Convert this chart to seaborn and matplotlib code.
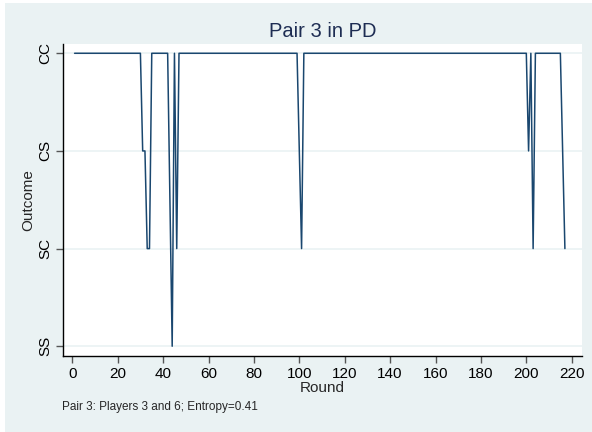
import numpy as np
import pandas as pd
import matplotlib
matplotlib.use("Agg")
import matplotlib.pyplot as plt
from matplotlib.patches import Rectangle
import seaborn as sns

# outcome codes on the y axis
outcome_labels = ["SS", "SC", "CS", "CC"]
outcome_codes = [1, 2, 3, 4]

# run lengths: (first round, last round, outcome)
# rounds 43, 100 and 216 have no observation (line is joined across them)
runs = [
    (1, 30, "CC"),
    (31, 32, "CS"),
    (33, 34, "SC"),
    (35, 42, "CC"),
    (44, 44, "SS"),
    (45, 45, "CC"),
    (46, 46, "SC"),
    (47, 99, "CC"),
    (101, 101, "SC"),
    (102, 200, "CC"),
    (201, 201, "CS"),
    (202, 202, "CC"),
    (203, 203, "SC"),
    (204, 215, "CC"),
    (217, 217, "SC"),
]

code_of = dict(zip(outcome_labels, outcome_codes))
rows = []
for first, last, lab in runs:
    for r in range(first, last + 1):
        rows.append((r, code_of[lab]))
df = pd.DataFrame(rows, columns=["Round", "Outcome"])

x_ticks = list(range(0, 221, 20))

bg = "#EAF2F3"
navy = "#1a476f"

sns.set_style("white")
plt.rcParams["font.family"] = ["Liberation Sans", "DejaVu Sans"]

fig = plt.figure(figsize=(5.92, 4.32), dpi=100)
fig.patch.set_facecolor("white")
fig.patches.append(Rectangle((5 / 592, 0), 1, 1 - 3 / 432, transform=fig.transFigure,
                             facecolor=bg, edgecolor="none", zorder=-10))

ax = fig.add_axes([63 / 592, 76 / 432, (581.7 - 63) / 592, (356 - 44) / 432])
ax.set_facecolor("white")

sns.lineplot(data=df, x="Round", y="Outcome", ax=ax, color=navy, linewidth=1.1,
             estimator=None, sort=True)

ax.set_xlim(-4.1, 224.4)
ax.set_ylim(0.90, 4.095)
ax.set_xticks(x_ticks)
ax.set_yticks(outcome_codes)
ax.set_yticklabels(outcome_labels, rotation=90, va="center")

for c in outcome_codes:
    ax.axhline(c, color=bg, linewidth=1.2, zorder=0)

for s in ["top", "right"]:
    ax.spines[s].set_visible(False)
for s in ["left", "bottom"]:
    ax.spines[s].set_color("black")
    ax.spines[s].set_linewidth(1.0)

ax.tick_params(axis="both", direction="out", length=5, width=1, color="#555555",
               labelsize=11, labelcolor="black", pad=3)
ax.tick_params(axis="both", which="both", bottom=True, left=True)

ax.set_xlabel("Round", fontsize=11, labelpad=0)
ax.set_ylabel("Outcome", fontsize=11, labelpad=2)
ax.set_title("Pair 3 in PD", fontsize=14.5, color="#1e2d53", pad=5)

fig.text(62 / 592, 1 - 407 / 432, "Pair 3: Players 3 and 6; Entropy=0.41",
         fontsize=8.5, va="center", ha="left")

fig.savefig("out.png", dpi=100, facecolor=fig.get_facecolor())
